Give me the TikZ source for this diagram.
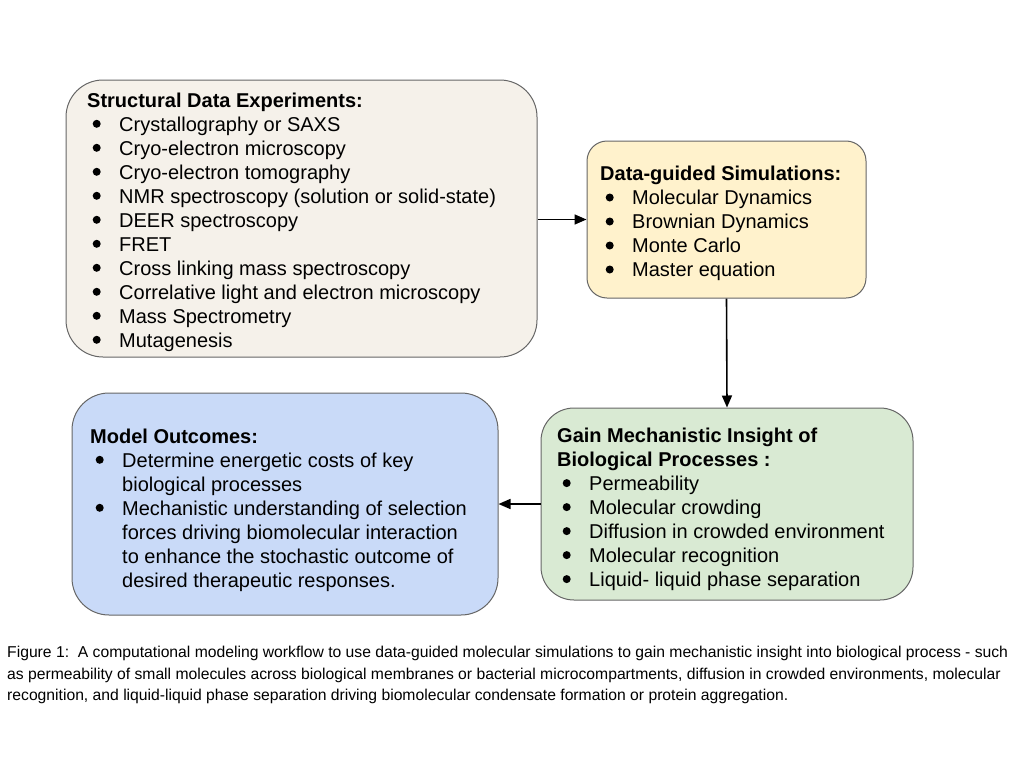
\documentclass[tikz,border=0pt]{standalone}
\usepackage{fontspec}
\setmainfont{Liberation Sans}
\usetikzlibrary{arrows.meta}
\definecolor{fillA}{HTML}{F5F1EA}
\definecolor{fillB}{HTML}{FFF2CC}
\definecolor{fillC}{HTML}{C9DAF8}
\definecolor{fillD}{HTML}{D9EAD3}
\definecolor{edgegray}{HTML}{666666}
\newcommand{\bul}{\raisebox{3.4pt}{\tikz\fill[black] (0,0) circle[radius=4pt];}}
\newcommand{\itm}{\hspace*{5.5pt}\makebox[26.5pt][l]{\bul}}
\newcommand{\cont}{\hspace*{32pt}}
\newcommand{\firstline}{\rule{0pt}{16pt}}
\begin{document}
\begin{tikzpicture}[x=1pt,y=-1pt,
  box/.style={draw=edgegray, line width=1pt, inner sep=0pt},
  boxtext/.style={anchor=north west, inner sep=0pt, align=left,
    font=\fontsize{20}{24}\selectfont},
  arr/.style={-{Triangle[length=12pt,width=10pt]}, line width=1.6pt, black},
  captext/.style={anchor=north west, inner sep=0pt, align=left,
    font=\fontsize{15.7}{21.5}\selectfont}]
\useasboundingbox[fill=white] (0,0) rectangle (1024,768);
% boxes
\node[box, fill=fillA, rounded corners=37pt, minimum width=471pt, minimum height=277pt] (b1) at (301.5,218.5) {};
\node[box, fill=fillB, rounded corners=20pt, minimum width=279pt, minimum height=157pt] (b2) at (726.5,219.5) {};
\node[box, fill=fillC, rounded corners=37pt, minimum width=426pt, minimum height=222pt] (b3) at (285,504) {};
\node[box, fill=fillD, rounded corners=33pt, minimum width=372pt, minimum height=192pt] (b4) at (727,504) {};
% texts
\node[boxtext] (t1) at (87,91) {\firstline\textbf{Structural Data Experiments:}\\
\itm Crystallography or SAXS\\
\itm Cryo-electron microscopy\\
\itm Cryo-electron tomography\\
\itm NMR spectroscopy (solution or solid-state)\\
\itm DEER spectroscopy\\
\itm FRET\\
\itm Cross linking mass spectroscopy\\
\itm Correlative light and electron microscopy\\
\itm Mass Spectrometry\\
\itm Mutagenesis};
\node[boxtext] (t2) at (600,164.7) {\firstline\textbf{Data-guided Simulations:}\\
\itm Molecular Dynamics\\
\itm Brownian Dynamics\\
\itm Monte Carlo\\
\itm Master equation};
\node[boxtext] (t3) at (90,427) {\firstline\textbf{Model Outcomes:}\\
\itm Determine energetic costs of key\\
\cont biological processes\\
\itm Mechanistic understanding of selection\\
\cont forces driving biomolecular interaction\\
\cont to enhance the stochastic outcome of\\
\cont desired therapeutic responses.};
\node[boxtext] (t4) at (557,426.3) {\firstline\textbf{Gain Mechanistic Insight of}\\
\textbf{Biological Processes :}\\
\itm Permeability\\
\itm Molecular crowding\\
\itm Diffusion in crowded environment\\
\itm Molecular recognition\\
\itm Liquid- liquid phase separation};
% connectors
\draw[arr] (b2.west -| b1.east) -- (b2.west);
\draw[arr] (b2.south) -- (b4.north);
\draw[arr] (b4.west) -- (b3.east);
% caption
\node[captext] (cap) at (7,642.7) {\rule{0pt}{15pt}Figure 1:\ \ A computational modeling workflow to use data-guided molecular simulations to gain mechanistic insight into biological process - such\\
as permeability of small molecules across biological membranes or bacterial microcompartments, diffusion in crowded environments, molecular\\
recognition, and liquid-liquid phase separation driving biomolecular condensate formation or protein aggregation.};
\end{tikzpicture}
\end{document}
